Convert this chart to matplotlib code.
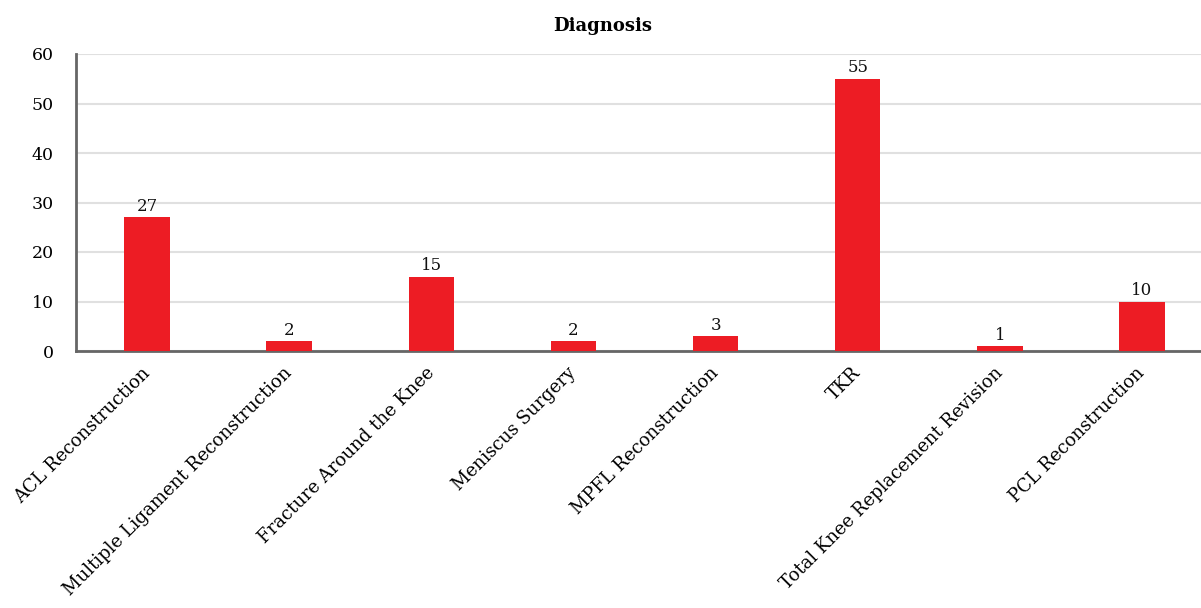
import matplotlib
matplotlib.use("Agg")
import matplotlib.pyplot as plt

categories = ["ACL Reconstruction", "Multiple Ligament Reconstruction",
              "Fracture Around the Knee", "Meniscus Surgery", "MPFL Reconstruction",
              "TKR", "Total Knee Replacement Revision", "PCL Reconstruction"]
values = [27, 2, 15, 2, 3, 55, 1, 10]
yticks = [0, 10, 20, 30, 40, 50, 60]
title = "Diagnosis"

plt.rcParams['font.family'] = ['DejaVu Serif']

W, H = 1201, 608
fig = plt.figure(figsize=(W / 100, H / 100), dpi=100)
left, right, top, bottom = 76, 1213, 54, 351
ax = fig.add_axes([left / W, (H - bottom) / H, (right - left) / W, (bottom - top) / H])

x = range(len(categories))
bars = ax.bar(x, values, width=0.32, color="#ED1C24", zorder=3)
for xi, v in zip(x, values):
    ax.text(xi, v + 0.5, str(v), ha="center", va="bottom", fontsize=12, color="#111111")

ax.set_xlim(-0.5, len(categories) - 0.5)
ax.set_ylim(0, 60)
ax.set_yticks(yticks)
ax.set_yticklabels([str(t) for t in yticks], fontsize=12.5)
ax.yaxis.grid(True, color="#e0e0e0", linewidth=1.5, zorder=0)
ax.set_axisbelow(True)
ax.tick_params(axis="y", length=0, pad=16)
ax.tick_params(axis="x", length=0, pad=14)
ax.set_xticks(list(x))
ax.set_xticklabels(categories, rotation=45, ha="right", va="center",
                   rotation_mode="anchor", fontsize=13)
for s in ["top", "right"]:
    ax.spines[s].set_visible(False)
for s in ["left", "bottom"]:
    ax.spines[s].set_color("#666666")
    ax.spines[s].set_linewidth(2)

fig.text(603 / W, 1 - 26 / H, title, ha="center", va="center", fontsize=13, fontweight="bold")

fig.savefig("out.png", dpi=100)
